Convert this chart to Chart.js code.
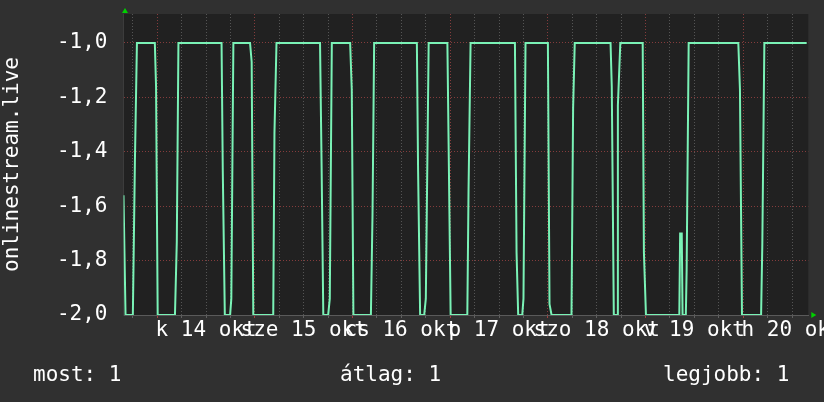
<!DOCTYPE html>
<html>
<head>
<meta charset="utf-8">
<script src="https://cdn.jsdelivr.net/npm/chart.js@4/dist/chart.umd.min.js"></script>
<style>
  body { margin: 0; background: #303030; }
  .wrap { position: relative; width: 824px; height: 402px; }
  .stat { position: absolute; top: 364px; font: 21px/21px "DejaVu Sans Mono", monospace; color: #ffffff; white-space: pre; }
</style>
</head>
<body>
<div class="wrap">
  <canvas id="chart" width="824" height="402"></canvas>
  <div class="stat" style="left:33px">most: 1</div>
  <div class="stat" style="left:340px">átlag: 1</div>
  <div class="stat" style="left:663px">legjobb: 1</div>
</div>
<script>
// time in hours from okt 14 00:00
const hours = [-8.3, -7.8, -6.0, -5.5, -5.0, -0.6, -0.3, 0.1, 4.35, 4.8, 5.2, 15.8, 16.1, 16.6, 17.9, 18.2, 18.7,
  22.8, 23.2, 23.6, 28.5, 28.8, 29.3, 40.0, 40.4, 40.8, 42.0, 42.4, 42.9, 47.4, 47.8, 48.2, 52.5, 52.9, 53.3,
  63.8, 64.1, 64.6, 65.6, 66.0, 66.7, 71.3, 71.6, 72.1, 76.2, 76.5, 77.0, 87.9, 88.3, 88.7, 89.7, 90.0, 90.5,
  96.0, 96.4, 96.9, 101.8, 102.2, 102.6, 111.4, 111.7, 112.2, 113.0, 113.2, 113.8, 119.3, 119.6, 120.1,
  128.3, 128.5, 128.9, 129.1, 129.9, 130.1, 130.6, 142.8, 143.2, 143.7, 148.4, 148.7, 149.2, 159.6];
const values = [-1.56, -2, -2, -1.44, -1, -1, -1.16, -2, -2, -1.73, -1, -1, -1.47, -2, -2, -1.94, -1,
  -1, -1.07, -2, -2, -1.33, -1, -1, -1.47, -2, -2, -1.94, -1, -1, -1.17, -2, -2, -1.63, -1,
  -1, -1.47, -2, -2, -1.94, -1, -1, -1.37, -2, -2, -1.54, -1, -1, -1.77, -2, -2, -1.94, -1,
  -1, -1.96, -2, -2, -1.24, -1, -1, -1.16, -2, -2, -1.23, -1, -1, -1.77, -2,
  -2, -1.70, -1.70, -2, -2, -1.835, -1, -1, -1.17, -2, -2, -1.74, -1, -1];

const dayLabels = ['k 14 okt', 'sze 15 okt', 'cs 16 okt', 'p 17 okt', 'szo 18 okt', 'v 19 okt', 'h 20 okt'];
const yTicks = [-2.0, -1.9, -1.8, -1.7, -1.6, -1.5, -1.4, -1.3, -1.2, -1.1, -1.0, -0.9];

const X_MIN = -8.3, X_MAX = 160;
const Y_MIN = -2, Y_MAX = -0.8934;

const FONT = { family: 'DejaVu Sans Mono', size: 21 };
const GREY = '#555555';
const RED = '#843c3c';

// grid every 6 hours, a day line every 24
const xTicks = [];
for (let h = -6; h <= X_MAX; h += 6) xTicks.push(h);

function isMajorY(v) {
  return Math.round(v * 10) % 2 === 0;
}

// background, plot area and the two green arrows
const rrdLook = {
  id: 'rrdLook',
  beforeDraw(chart) {
    const { ctx, chartArea: a } = chart;
    ctx.save();
    ctx.fillStyle = '#303030';
    ctx.fillRect(0, 0, chart.width, chart.height);
    ctx.fillStyle = '#212121';
    ctx.fillRect(a.left, a.top, a.right - a.left, a.bottom - a.top);
    ctx.restore();
  },
  afterDraw(chart) {
    const { ctx, chartArea: a } = chart;
    ctx.save();
    ctx.fillStyle = '#00d000';
    ctx.beginPath();
    ctx.moveTo(a.left + 1.5, a.top - 6);
    ctx.lineTo(a.left - 1.5, a.top - 1);
    ctx.lineTo(a.left + 4.5, a.top - 1);
    ctx.fill();
    ctx.beginPath();
    ctx.moveTo(a.right + 8, a.bottom);
    ctx.lineTo(a.right + 3, a.bottom - 3);
    ctx.lineTo(a.right + 3, a.bottom + 3);
    ctx.fill();
    ctx.restore();
  }
};

new Chart(document.getElementById('chart'), {
  type: 'line',
  data: {
    datasets: [{
      data: hours.map((h, i) => ({ x: h, y: values[i] })),
      borderColor: '#7af2b6',
      borderWidth: 2,
      pointRadius: 0,
      tension: 0,
      clip: 0
    }]
  },
  options: {
    responsive: false,
    animation: false,
    devicePixelRatio: 1,
    layout: { padding: { top: 14, right: 15.7, left: 0, bottom: 0 } },
    plugins: { legend: { display: false }, tooltip: { enabled: false } },
    scales: {
      x: {
        type: 'linear',
        min: X_MIN,
        max: X_MAX,
        afterBuildTicks(scale) { scale.ticks = xTicks.map(v => ({ value: v })); },
        afterFit(scale) { scale.height = 87; scale.paddingLeft = 0; scale.paddingRight = 0; },
        ticks: {
          autoSkip: false,
          maxRotation: 0,
          padding: 0,
          color: '#ffffff',
          font: FONT,
          callback(v) { return (v % 24 === 12) ? dayLabels[(v - 12) / 24] : ''; }
        },
        grid: {
          color: ctx => (ctx.tick && ctx.tick.value % 24 === 0) ? RED : GREY,
          tickColor: ctx => (ctx.tick && ctx.tick.value % 24 === 0) ? '#a04040' : '#606060',
          tickLength: 3,
          lineWidth: 1
        },
        border: { display: true, color: '#5a5a5a', dash: [1, 2] }
      },
      y: {
        min: Y_MIN,
        max: Y_MAX,
        afterBuildTicks(scale) { scale.ticks = yTicks.map(v => ({ value: v })); },
        afterFit(scale) { scale.width = 123.5; scale.paddingTop = 0; scale.paddingBottom = 0; },
        ticks: {
          padding: 16,
          color: '#ffffff',
          font: FONT,
          callback(v) { return isMajorY(v) ? v.toFixed(1).replace('.', ',') : ''; }
        },
        grid: {
          color: ctx => (ctx.tick && isMajorY(ctx.tick.value)) ? RED : GREY,
          drawTicks: false,
          lineWidth: 1
        },
        border: { display: true, color: '#3c3c3c', dash: [1, 2] },
        title: {
          display: true,
          text: 'onlinestream.live',
          color: '#ffffff',
          font: FONT,
          padding: { top: 0, bottom: 0 }
        }
      }
    }
  },
  plugins: [rrdLook]
});
</script>
</body>
</html>
